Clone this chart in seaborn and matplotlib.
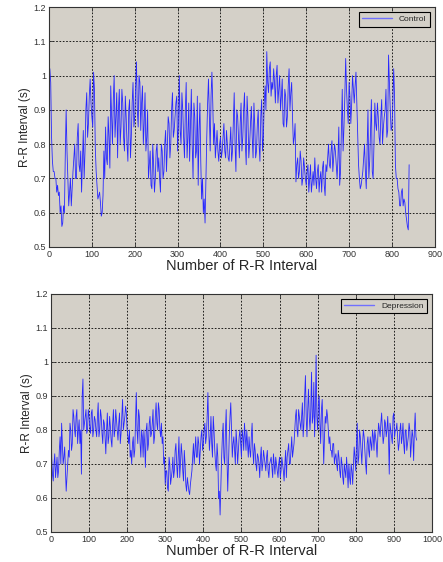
import numpy as np
import pandas as pd
import matplotlib
matplotlib.use("Agg")
import matplotlib.pyplot as plt
import seaborn as sns

# R-R intervals (s): one list at beats 0, 4, 8, ...
# and one at the beats in between (2, 6, 10, ...)
control_rr = [
    1.00, 0.98, 0.75, 0.72, 0.70, 0.68, 0.66, 0.62, 0.57, 0.60,
    0.90, 0.70, 0.66, 0.62, 0.72, 0.80, 0.70, 0.86, 0.72, 0.66,
    0.84, 0.78, 0.95, 0.86, 0.99, 0.88, 1.01, 0.79, 0.68, 0.65,
    0.63, 0.60, 0.78, 0.85, 0.74, 0.82, 0.97, 0.80, 1.00, 0.88,
    0.76, 0.96, 0.85, 0.92, 0.78, 0.88, 0.75, 0.93, 0.82, 0.98,
    0.88, 1.04, 0.85, 0.98, 0.92, 0.80, 0.95, 0.82, 0.70, 0.78,
    0.67, 0.74, 0.70, 0.80, 0.76, 0.66, 0.78, 0.72, 0.84, 0.79,
    0.86, 0.80, 0.95, 0.84, 0.92, 0.78, 1.00, 0.80, 0.90, 0.76,
    0.98, 0.82, 0.75, 0.96, 0.70, 0.88, 0.78, 0.68, 0.92, 0.64,
    0.60, 0.57, 0.82, 0.99, 0.78, 1.01, 0.80, 0.76, 0.84, 0.75,
    0.82, 0.78, 0.86, 0.76, 0.80, 0.75, 0.85, 0.78, 0.95, 0.72,
    0.88, 0.76, 0.92, 0.82, 0.95, 0.74, 0.88, 0.80, 0.91, 0.76,
    0.85, 0.78, 0.90, 0.75, 0.93, 0.82, 0.97, 1.07, 0.95, 1.04,
    0.98, 1.02, 0.92, 1.03, 0.96, 0.90, 0.99, 0.85, 0.94, 0.88,
    1.02, 0.95, 0.88, 0.82, 0.69, 0.76, 0.72, 0.75, 0.70, 0.73,
    0.68, 0.74, 0.70, 0.66, 0.72, 0.76, 0.67, 0.74, 0.70, 0.66,
    0.75, 0.65, 0.72, 0.80, 0.73, 0.81, 0.76, 0.78, 0.70, 0.85,
    0.72, 0.96, 0.85, 1.05, 0.90, 0.98, 0.86, 1.00, 0.92, 1.01,
    0.82, 0.70, 0.68, 0.72, 0.80, 0.67, 0.90, 0.75, 0.93, 0.70,
    0.92, 0.84, 0.88, 0.80, 0.93, 0.85, 0.90, 0.82, 1.06, 0.90,
    0.85, 1.02, 0.74, 0.70, 0.66, 0.62, 0.67, 0.64, 0.60, 0.56,
    0.74,
]
control_rr_mid = [
    1.02, 0.82, 0.72, 0.70, 0.66, 0.65, 0.60, 0.56, 0.62, 0.77,
    0.78, 0.62, 0.70, 0.67, 0.76, 0.70, 0.82, 0.74, 0.78, 0.75,
    0.70, 0.90, 0.82, 0.94, 0.92, 0.85, 0.96, 0.72, 0.64, 0.66,
    0.59, 0.65, 0.70, 0.76, 0.88, 0.73, 0.88, 0.93, 0.82, 0.95,
    0.90, 0.80, 0.96, 0.82, 0.94, 0.80, 0.90, 0.76, 0.92, 0.85,
    0.96, 0.90, 1.00, 0.84, 0.97, 0.86, 0.78, 0.90, 0.74, 0.68,
    0.80, 0.66, 0.78, 0.72, 0.70, 0.80, 0.70, 0.80, 0.72, 0.88,
    0.76, 0.90, 0.82, 0.88, 0.94, 0.86, 0.84, 0.95, 0.82, 0.90,
    0.76, 0.92, 0.86, 0.80, 0.92, 0.76, 0.94, 0.84, 0.75, 0.70,
    0.64, 0.70, 0.92, 0.88, 0.94, 0.92, 0.86, 0.80, 0.78, 0.80,
    0.76, 0.82, 0.78, 0.84, 0.76, 0.80, 0.75, 0.86, 0.80, 0.90,
    0.82, 0.86, 0.78, 0.90, 0.80, 0.94, 0.76, 0.86, 0.82, 0.92,
    0.76, 0.86, 0.80, 0.88, 0.78, 0.92, 0.90, 0.98, 1.02, 0.94,
    0.96, 0.98, 1.00, 0.92, 1.00, 0.94, 0.86, 0.96, 0.85, 0.97,
    0.90, 0.98, 0.80, 0.86, 0.74, 0.70, 0.78, 0.68, 0.76, 0.70,
    0.72, 0.66, 0.74, 0.69, 0.68, 0.70, 0.72, 0.66, 0.72, 0.73,
    0.68, 0.74, 0.76, 0.74, 0.78, 0.72, 0.80, 0.74, 0.76, 0.68,
    0.84, 0.78, 0.94, 0.96, 0.86, 0.94, 0.92, 0.96, 0.97, 0.92,
    0.74, 0.67, 0.70, 0.76, 0.72, 0.78, 0.70, 0.84, 0.72, 0.80,
    0.86, 0.92, 0.82, 0.88, 0.80, 0.88, 0.96, 0.84, 0.98, 0.84,
    0.92, 0.94, 0.70, 0.67, 0.62, 0.66, 0.62, 0.63, 0.58, 0.55,
]
depression_rr = [
    0.82, 0.67, 0.70, 0.66, 0.72, 0.68, 0.78, 0.82, 0.70, 0.75,
    0.62, 0.70, 0.72, 0.80, 0.76, 0.84, 0.78, 0.86, 0.80, 0.76,
    0.67, 0.95, 0.82, 0.86, 0.80, 0.84, 0.79, 0.86, 0.80, 0.83,
    0.78, 0.88, 0.80, 0.84, 0.76, 0.82, 0.73, 0.85, 0.78, 0.81,
    0.75, 0.86, 0.80, 0.83, 0.77, 0.85, 0.79, 0.89, 0.82, 0.87,
    0.80, 0.76, 0.72, 0.70, 0.78, 0.74, 0.91, 0.76, 0.84, 0.72,
    0.78, 0.80, 0.69, 0.82, 0.76, 0.84, 0.79, 0.86, 0.78, 0.88,
    0.80, 0.86, 0.78, 0.76, 0.70, 0.64, 0.68, 0.62, 0.70, 0.66,
    0.72, 0.68, 0.76, 0.66, 0.78, 0.70, 0.73, 0.65, 0.70, 0.62,
    0.64, 0.61, 0.66, 0.72, 0.70, 0.78, 0.72, 0.76, 0.74, 0.80,
    0.76, 0.82, 0.78, 0.91, 0.74, 0.84, 0.72, 0.80, 0.70, 0.76,
    0.60, 0.55, 0.72, 0.82, 0.70, 0.86, 0.62, 0.78, 0.88, 0.72,
    0.78, 0.70, 0.76, 0.74, 0.80, 0.72, 0.78, 0.82, 0.74, 0.76,
    0.78, 0.72, 0.82, 0.70, 0.74, 0.68, 0.72, 0.66, 0.75, 0.70,
    0.72, 0.68, 0.74, 0.66, 0.71, 0.69, 0.73, 0.67, 0.70, 0.66,
    0.72, 0.68, 0.70, 0.65, 0.74, 0.72, 0.76, 0.70, 0.78, 0.74,
    0.80, 0.86, 0.78, 0.84, 0.80, 0.88, 0.82, 0.96, 0.78, 0.92,
    0.80, 0.97, 0.84, 0.78, 1.02, 0.80, 0.90, 0.76, 0.89, 0.70,
    0.84, 0.86, 0.80, 0.78, 0.74, 0.76, 0.70, 0.73, 0.68, 0.72,
    0.66, 0.70, 0.64, 0.68, 0.72, 0.63, 0.66, 0.70, 0.64, 0.75,
    0.68, 0.82, 0.72, 0.78, 0.70, 0.80, 0.74, 0.67, 0.78, 0.72,
    0.76, 0.80, 0.74, 0.78, 0.72, 0.82, 0.78, 0.85, 0.76, 0.83,
    0.78, 0.84, 0.67, 0.80, 0.76, 0.85, 0.80, 0.82, 0.74, 0.80,
    0.76, 0.82, 0.73, 0.80, 0.76, 0.82, 0.72, 0.80, 0.71, 0.85,
    0.77,
]
depression_rr_mid = [
    0.72, 0.65, 0.73, 0.69, 0.66, 0.74, 0.70, 0.76, 0.72, 0.68,
    0.66, 0.74, 0.82, 0.74, 0.86, 0.80, 0.84, 0.76, 0.83, 0.80,
    0.90, 0.80, 0.84, 0.79, 0.86, 0.81, 0.85, 0.78, 0.84, 0.80,
    0.84, 0.78, 0.86, 0.79, 0.83, 0.78, 0.80, 0.76, 0.84, 0.77,
    0.82, 0.78, 0.86, 0.80, 0.82, 0.76, 0.84, 0.80, 0.84, 0.85,
    0.78, 0.80, 0.74, 0.76, 0.72, 0.82, 0.80, 0.86, 0.76, 0.80,
    0.72, 0.76, 0.80, 0.74, 0.82, 0.78, 0.82, 0.76, 0.84, 0.82,
    0.88, 0.80, 0.82, 0.78, 0.72, 0.68, 0.63, 0.72, 0.64, 0.68,
    0.66, 0.74, 0.70, 0.72, 0.66, 0.76, 0.68, 0.74, 0.64, 0.66,
    0.62, 0.64, 0.68, 0.76, 0.74, 0.72, 0.78, 0.70, 0.78, 0.74,
    0.80, 0.76, 0.84, 0.80, 0.78, 0.76, 0.84, 0.74, 0.68, 0.72,
    0.62, 0.64, 0.78, 0.72, 0.80, 0.72, 0.70, 0.84, 0.80, 0.76,
    0.74, 0.80, 0.70, 0.78, 0.76, 0.80, 0.74, 0.78, 0.80, 0.72,
    0.74, 0.78, 0.74, 0.76, 0.70, 0.73, 0.70, 0.72, 0.68, 0.74,
    0.70, 0.72, 0.68, 0.70, 0.72, 0.66, 0.70, 0.72, 0.68, 0.70,
    0.66, 0.72, 0.68, 0.70, 0.66, 0.74, 0.70, 0.74, 0.72, 0.76,
    0.84, 0.80, 0.86, 0.82, 0.84, 0.78, 0.90, 0.84, 0.86, 0.84,
    0.86, 0.82, 0.94, 0.86, 0.84, 0.88, 0.82, 0.86, 0.80, 0.78,
    0.82, 0.84, 0.76, 0.74, 0.72, 0.76, 0.72, 0.70, 0.74, 0.68,
    0.72, 0.66, 0.70, 0.66, 0.68, 0.70, 0.64, 0.68, 0.70, 0.72,
    0.76, 0.70, 0.80, 0.74, 0.76, 0.78, 0.70, 0.76, 0.74, 0.78,
    0.74, 0.78, 0.80, 0.76, 0.78, 0.80, 0.82, 0.80, 0.78, 0.82,
    0.80, 0.78, 0.82, 0.78, 0.84, 0.78, 0.80, 0.78, 0.76, 0.82,
    0.78, 0.76, 0.80, 0.74, 0.78, 0.80, 0.76, 0.78, 0.80, 0.78,
]

panels = [
    ("Control", control_rr, control_rr_mid, 900, [0.1106, 0.5605, 0.871, 0.427]),
    ("Depression", depression_rr, depression_rr_mid, 1000, [0.115, 0.0534, 0.86, 0.4235]),
]
y_ticks = [0.5, 0.6, 0.7, 0.8, 0.9, 1.0, 1.1, 1.2]
y_labels = ["0.5", "0.6", "0.7", "0.8", "0.9", "1", "1.1", "1.2"]
line_color = "#2828ff"

sns.set_style("ticks", {"axes.facecolor": "#d4d0c8"})
plt.rcParams["font.family"] = ["Liberation Sans", "DejaVu Sans"]

fig = plt.figure(figsize=(4.43, 5.62), dpi=100)

for name, main, mid, xmax, rect in panels:
    rr = np.empty(len(main) + len(mid))
    rr[0::2] = main
    rr[1::2] = mid
    df = pd.DataFrame({"beat": np.arange(len(rr)) * 2, "rr": rr})

    ax = fig.add_axes(rect)
    sns.lineplot(data=df, x="beat", y="rr", ax=ax, color=line_color,
                 linewidth=0.6, label=name)
    ax.set_xlim(0, xmax)
    ax.set_ylim(0.5, 1.2)
    ax.set_xticks(np.arange(0, xmax + 1, 100))
    ax.set_yticks(y_ticks)
    ax.set_yticklabels(y_labels)
    ax.grid(True, color="black", linestyle=(0, (2, 2)), linewidth=0.6)
    ax.tick_params(direction="in", length=3, labelsize=6.5, colors="#333333",
                   top=True, right=True, width=0.6, pad=2)
    for sp in ax.spines.values():
        sp.set_color("#333333")
        sp.set_linewidth(0.8)
    ax.set_xlabel("Number of R-R Interval", fontsize=10.5, labelpad=0)
    ax.set_ylabel("R-R Interval (s)", fontsize=8.5, labelpad=2)
    leg = ax.legend(loc="upper right", fontsize=6, frameon=True, fancybox=False,
                    borderpad=0.4, handlelength=3.6, borderaxespad=0.6)
    leg.get_lines()[0].set_color("#7070ff")
    leg.get_lines()[0].set_linewidth(1.0)
    leg.get_frame().set_edgecolor("black")
    leg.get_frame().set_linewidth(0.8)
    leg.get_frame().set_alpha(1)

fig.savefig("out.png", dpi=100)
